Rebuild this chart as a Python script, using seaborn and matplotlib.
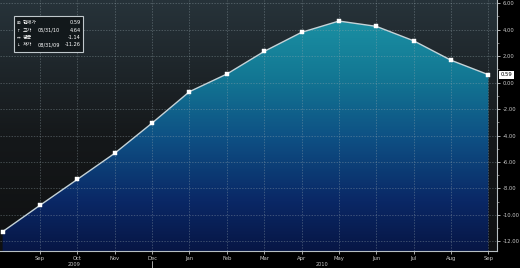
import numpy as np
import pandas as pd
import matplotlib
matplotlib.use('Agg')
import matplotlib.pyplot as plt
import seaborn as sns
from matplotlib.colors import LinearSegmentedColormap
from matplotlib.patches import Rectangle
import matplotlib.transforms as mtransforms

# ---- data ----
dates = ['08/31/09', '09/30/09', '10/31/09', '11/30/09', '12/31/09', '01/31/10', '02/28/10',
         '03/31/10', '04/30/10', '05/31/10', '06/30/10', '07/31/10', '08/31/10', '09/30/10']
values = [-11.26, -9.27, -7.31, -5.34, -3.06, -0.69, 0.64, 2.35, 3.79, 4.64, 4.24, 3.15, 1.68, 0.59]
month_labels = ['Sep', 'Oct', 'Nov', 'Dec', 'Jan', 'Feb', 'Mar', 'Apr', 'May', 'Jun', 'Jul', 'Aug', 'Sep']
year_labels = ['2009', '2010']
year_positions = [1.92, 8.55]
y_ticks = [6, 4, 2, 0, -2, -4, -6, -8, -10, -12]
legend_icons = ['\u229e', '\u2191', '\u2194', '\u2193']
legend_names = ['현재가', '고가', '평균', '저가']
legend_dates = ['', '05/31/10', '', '08/31/09']
legend_values = ['0.59', '4.64', '-1.14', '-11.26']

df = pd.DataFrame({'idx': np.arange(len(values)), 'date': dates, 'value': values})

sns.set_theme(style='dark')
plt.rcParams['font.family'] = ['DejaVu Sans', 'Noto Sans CJK KR']

W, H = 520, 268
fig = plt.figure(figsize=(W / 100, H / 100), dpi=100, facecolor='black')
ax = fig.add_axes([0, 1 - 251 / H, 497 / W, 251 / H])
ax.set_facecolor('black')

xlim = (-0.07, 13.23)
ylim = (-12.72, 6.23)
ax.set_xlim(*xlim)
ax.set_ylim(*ylim)

# background gradient above curve
bg_cmap = LinearSegmentedColormap.from_list('bg', [(0, '#0f1011'), (0.45, '#15181a'), (1, '#27333a')])
grad = np.linspace(0, 1, 256).reshape(-1, 1)
ax.imshow(grad, cmap=bg_cmap, origin='lower', aspect='auto',
          extent=(xlim[0], xlim[1], ylim[0], ylim[1]), zorder=-3)

# area gradient under curve
fill_cmap = LinearSegmentedColormap.from_list('fill', [(0, '#071645'), (0.2, '#0a2866'),
                                                       (0.45, '#0e5084'), (0.7, '#137894'),
                                                       (1, '#1d98a8')])
poly = ax.fill_between(df['idx'], df['value'], ylim[0], facecolor='none', edgecolor='none')
im = ax.imshow(grad, cmap=fill_cmap, origin='lower', aspect='auto',
               extent=(xlim[0], xlim[1], ylim[0], ylim[1]), zorder=-2)
im.set_clip_path(poly.get_paths()[0], transform=ax.transData)

# line with markers
sns.lineplot(data=df, x='idx', y='value', ax=ax, color='#c5d3d8', lw=1.0,
             marker='s', markersize=2.8, markerfacecolor='white', markeredgecolor='white',
             markeredgewidth=0.3, zorder=3)

# grid
ax.set_axisbelow(True)
ax.grid(True, which='major', color='#9aaab0', lw=0.5, ls=(0, (2, 2)), alpha=0.5)

# spines
for s in ['left', 'top']:
    ax.spines[s].set_visible(False)
for s in ['bottom', 'right']:
    ax.spines[s].set_visible(True)
    ax.spines[s].set_color('#b8c0c4')
    ax.spines[s].set_linewidth(0.8)

# x ticks
ax.set_xticks(np.arange(1, len(month_labels) + 1))
ax.set_xticklabels(month_labels)
ax.tick_params(axis='x', bottom=True, length=2, width=0.6, color='#c0c0c0',
               labelsize=3.8, labelcolor='#c8c8c8', pad=1.5)
ax.set_xlabel('')

# y ticks on right
ax.yaxis.tick_right()
ax.set_yticks(y_ticks)
ax.set_yticklabels([f'{v:.2f}' for v in y_ticks])
ax.set_yticks(np.arange(-11, 6, 2), minor=True)
ax.tick_params(axis='y', which='major', right=True, left=False, length=2.5, width=0.6,
               color='#d0d0d0', labelsize=3.8, labelcolor='#c8c8c8', pad=1.5)
ax.tick_params(axis='y', which='minor', right=True, left=False, length=1.5, width=0.5,
               color='#a0a0a0')
ax.set_ylabel('')

# year labels
trans = mtransforms.blended_transform_factory(ax.transData, ax.transAxes)
for yl, yp in zip(year_labels, year_positions):
    ax.text(yp, -0.045, yl, transform=trans, fontsize=3.6, color='#c8c8c8', ha='center', va='top')
# year separator
sep_x = month_labels.index('Dec') + 1
ax.plot([sep_x, sep_x], [-0.04, -0.075], transform=trans, color='#c0c0c0', lw=0.6, clip_on=False)

# last value box
ax.annotate(f'{values[-1]:.2f}', xy=(1.0, values[-1]), xycoords=('axes fraction', 'data'),
            xytext=(2.5, 0), textcoords='offset points', fontsize=3.8, color='black',
            va='center', ha='left',
            bbox=dict(boxstyle='square,pad=0.25', fc='white', ec='none'))

# legend box
ax.add_patch(Rectangle((14 / 497, 1 - 52 / 251), 69 / 497, 36 / 251, transform=ax.transAxes,
                       facecolor='#12181b', edgecolor='#c0c8cc', lw=0.8, zorder=5))
row_y = [22.7, 30.5, 37.7, 44.5]
for ic, nm, dt, vl, ry in zip(legend_icons, legend_names, legend_dates, legend_values, row_y):
    yy = 1 - ry / 251
    ax.text(16.5 / 497, yy, ic, transform=ax.transAxes, fontsize=3.2, color='white',
            va='center', ha='left', zorder=6)
    ax.text(22.5 / 497, yy, nm, transform=ax.transAxes, fontsize=3.6, color='white',
            va='center', ha='left', zorder=6)
    ax.text(38 / 497, yy, dt, transform=ax.transAxes, fontsize=3.6, color='white',
            va='center', ha='left', zorder=6)
    ax.text(81 / 497, yy, vl, transform=ax.transAxes, fontsize=3.6, color='white',
            va='center', ha='right', zorder=6)

fig.savefig('out.png', dpi=100, facecolor='black')
